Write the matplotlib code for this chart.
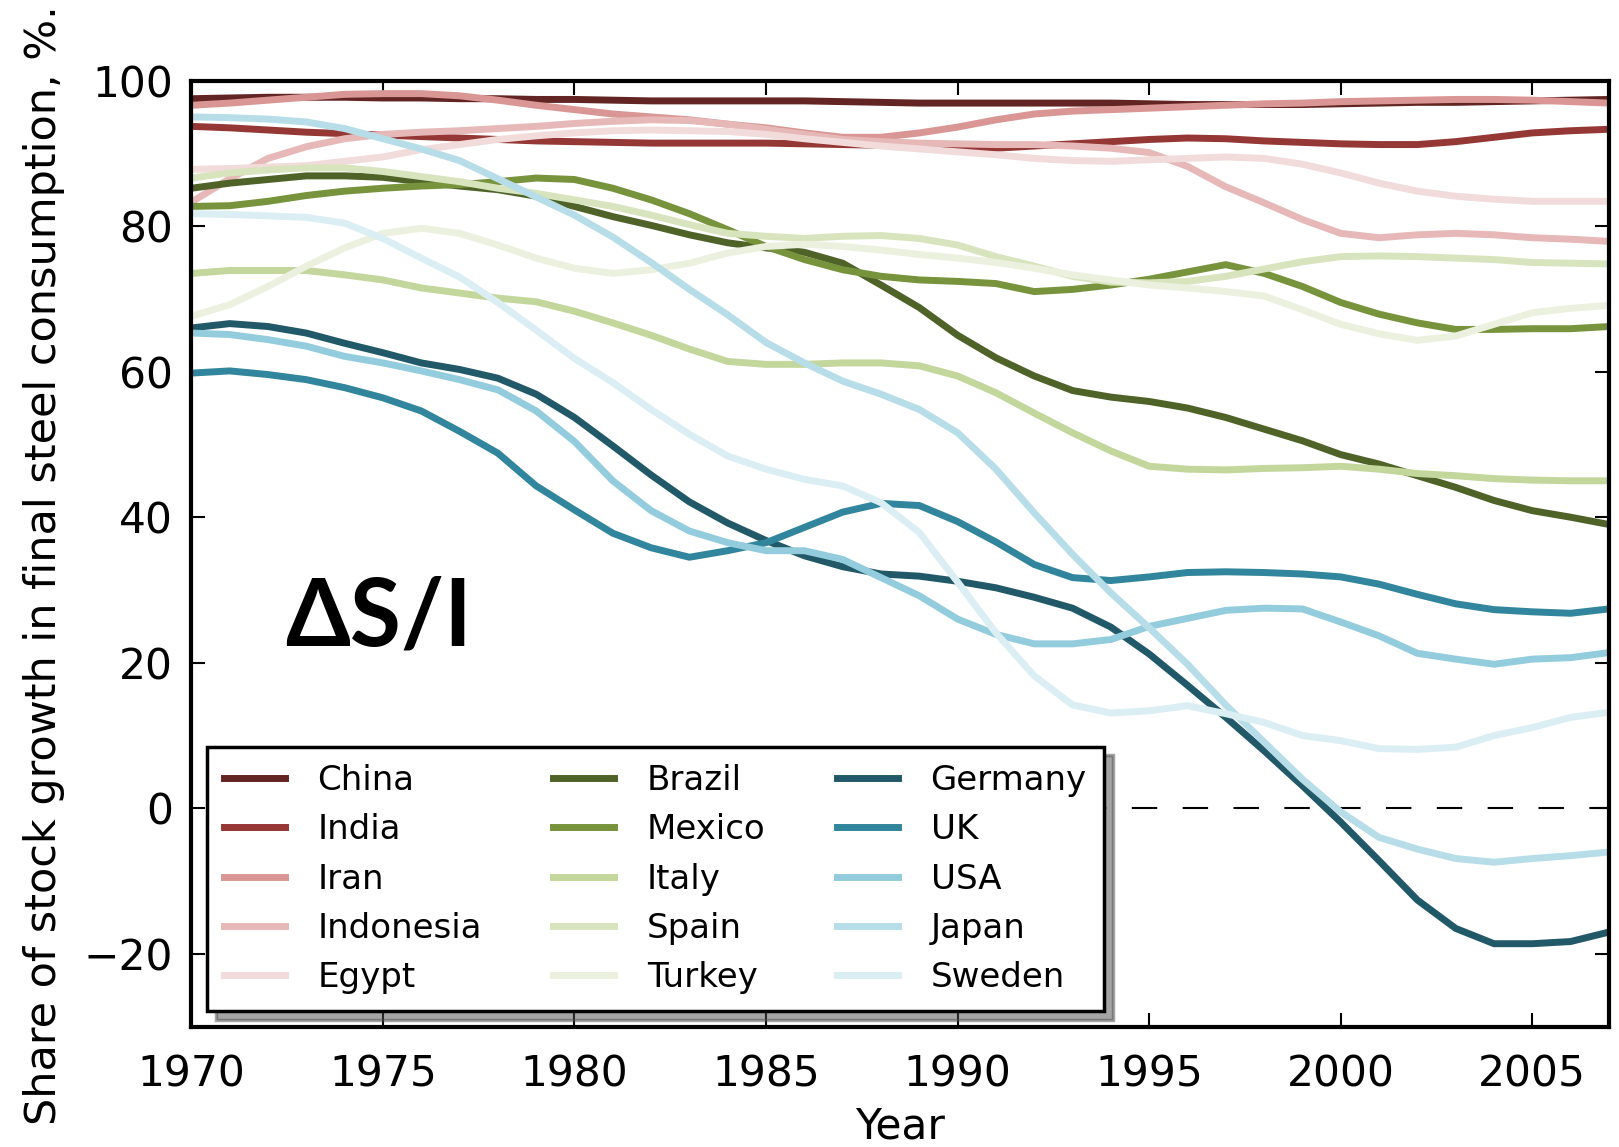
import matplotlib.pyplot as plt

years = list(range(1970, 2008))

# share of stock growth in final steel consumption (%), one value per year 1970-2007
china = [97.5, 97.6, 97.7, 97.7, 97.7, 97.6, 97.6, 97.5, 97.5, 97.4,
         97.4, 97.3, 97.2, 97.2, 97.2, 97.2, 97.2, 97.1, 97.0, 96.9,
         96.9, 96.9, 96.9, 96.9, 96.9, 96.8, 96.7, 96.7, 96.7, 96.7,
         96.8, 96.9, 97.0, 97.0, 97.1, 97.2, 97.3, 97.4]
india = [93.7, 93.5, 93.2, 92.9, 92.7, 92.5, 92.3, 92.1, 91.9, 91.7,
         91.6, 91.5, 91.4, 91.4, 91.4, 91.4, 91.3, 91.2, 91.1, 90.9,
         90.7, 90.7, 91.0, 91.3, 91.6, 91.9, 92.1, 92.0, 91.7, 91.5,
         91.3, 91.2, 91.2, 91.6, 92.2, 92.8, 93.1, 93.3]
iran = [96.6, 96.9, 97.3, 97.7, 98.1, 98.2, 98.2, 97.9, 97.3, 96.6,
        96.0, 95.4, 95.0, 94.6, 94.0, 93.5, 92.8, 92.2, 92.2, 92.8,
        93.6, 94.6, 95.4, 95.8, 96.0, 96.2, 96.4, 96.6, 96.8, 96.9,
        97.1, 97.2, 97.3, 97.4, 97.4, 97.3, 97.1, 96.9]
indonesia = [83.3, 86.5, 89.3, 90.9, 92.0, 92.6, 92.9, 93.1, 93.4, 93.7,
             94.1, 94.4, 94.6, 94.5, 94.0, 93.3, 92.6, 91.9, 91.6, 91.4,
             91.3, 91.2, 91.2, 91.0, 90.7, 90.1, 88.2, 85.4, 83.2, 80.9,
             79.0, 78.4, 78.8, 79.0, 78.8, 78.4, 78.2, 77.9]
egypt = [87.8, 87.9, 88.1, 88.3, 88.9, 89.5, 90.5, 91.2, 91.9, 92.4,
         92.8, 93.1, 93.2, 93.1, 93.0, 92.6, 92.0, 91.5, 91.0, 90.6,
         90.2, 89.8, 89.3, 89.0, 88.9, 89.1, 89.3, 89.5, 89.3, 88.5,
         87.3, 85.9, 84.8, 84.1, 83.7, 83.4, 83.4, 83.4]
brazil = [85.2, 85.9, 86.4, 86.9, 86.9, 86.7, 86.1, 85.5, 85.0, 84.1,
          82.7, 81.3, 80.1, 78.8, 77.7, 77.0, 76.4, 74.9, 71.9, 68.8,
          65.0, 61.9, 59.4, 57.4, 56.5, 55.9, 55.0, 53.7, 52.1, 50.5,
          48.6, 47.3, 45.7, 44.1, 42.3, 40.9, 40.0, 39.0]
mexico = [82.7, 82.8, 83.4, 84.2, 84.8, 85.2, 85.5, 85.7, 86.1, 86.6,
          86.4, 85.2, 83.6, 81.7, 79.5, 77.2, 75.4, 74.0, 73.1, 72.6,
          72.4, 72.1, 71.0, 71.3, 71.9, 72.7, 73.7, 74.7, 73.5, 71.7,
          69.5, 67.9, 66.7, 65.8, 65.8, 65.9, 65.9, 66.2]
italy = [73.5, 73.9, 73.9, 73.9, 73.3, 72.6, 71.5, 70.8, 70.1, 69.6,
         68.3, 66.7, 65.0, 63.1, 61.4, 61.0, 61.0, 61.2, 61.2, 60.8,
         59.4, 57.1, 54.3, 51.6, 49.1, 47.0, 46.6, 46.5, 46.7, 46.8,
         47.0, 46.6, 46.0, 45.7, 45.3, 45.1, 45.0, 45.0]
spain = [86.6, 87.3, 87.7, 88.0, 88.0, 87.5, 86.8, 86.1, 85.2, 84.5,
         83.6, 82.7, 81.5, 80.2, 79.0, 78.6, 78.3, 78.6, 78.7, 78.3,
         77.4, 75.8, 74.5, 73.1, 72.3, 72.2, 72.4, 73.1, 74.1, 75.1,
         75.8, 75.9, 75.8, 75.6, 75.4, 75.0, 74.9, 74.8]
turkey = [67.6, 69.2, 71.7, 74.5, 77.0, 79.0, 79.7, 79.0, 77.4, 75.6,
          74.2, 73.5, 74.0, 74.9, 76.3, 77.2, 77.5, 77.2, 76.7, 76.1,
          75.6, 75.0, 74.2, 73.3, 72.6, 71.9, 71.5, 71.0, 70.4, 68.5,
          66.5, 65.2, 64.3, 64.9, 66.5, 68.1, 68.7, 69.1]
germany = [66.0, 66.6, 66.2, 65.3, 63.9, 62.6, 61.2, 60.3, 59.1, 56.9,
           53.7, 49.8, 45.8, 42.1, 39.2, 36.8, 34.7, 33.2, 32.2, 31.9,
           31.2, 30.3, 29.0, 27.5, 24.9, 21.2, 16.9, 12.5, 7.9, 3.1,
           -1.9, -7.2, -12.6, -16.5, -18.6, -18.6, -18.3, -17.0]
uk = [59.8, 60.1, 59.6, 58.9, 57.8, 56.4, 54.6, 51.8, 48.8, 44.3,
      41.0, 37.8, 35.8, 34.5, 35.4, 36.5, 38.6, 40.7, 41.9, 41.6,
      39.4, 36.6, 33.5, 31.7, 31.3, 31.8, 32.4, 32.5, 32.4, 32.2,
      31.8, 30.8, 29.4, 28.1, 27.3, 27.0, 26.8, 27.4]
usa = [65.3, 65.1, 64.4, 63.5, 62.1, 61.2, 60.1, 58.9, 57.5, 54.6,
       50.4, 45.0, 40.9, 38.1, 36.5, 35.4, 35.4, 34.2, 31.7, 29.2,
       26.0, 23.9, 22.6, 22.6, 23.2, 25.0, 26.1, 27.2, 27.5, 27.4,
       25.6, 23.7, 21.3, 20.5, 19.8, 20.5, 20.7, 21.4]
japan = [95.0, 94.9, 94.7, 94.3, 93.4, 92.0, 90.6, 89.0, 86.5, 84.0,
         81.5, 78.5, 75.0, 71.3, 67.8, 64.0, 61.2, 58.7, 56.9, 54.8,
         51.6, 46.6, 40.6, 34.9, 29.6, 24.8, 19.8, 14.2, 9.1, 4.0,
         -0.5, -4.0, -5.6, -6.9, -7.4, -6.9, -6.5, -6.0]
sweden = [81.7, 81.6, 81.4, 81.2, 80.4, 78.3, 75.6, 73.0, 69.5, 65.7,
          61.8, 58.5, 54.8, 51.4, 48.4, 46.6, 45.2, 44.3, 42.0, 37.9,
          31.1, 24.1, 18.2, 14.2, 13.1, 13.4, 14.1, 13.0, 11.8, 10.0,
          9.3, 8.2, 8.1, 8.4, 10.0, 11.1, 12.5, 13.2]

countries = ["China", "India", "Iran", "Indonesia", "Egypt",
             "Brazil", "Mexico", "Italy", "Spain", "Turkey",
             "Germany", "UK", "USA", "Japan", "Sweden"]
values = [china, india, iran, indonesia, egypt,
          brazil, mexico, italy, spain, turkey,
          germany, uk, usa, japan, sweden]
colors = ["#632523", "#953735", "#d99694", "#e6b9b8", "#f2dcdb",
          "#4f6228", "#77933c", "#c3d69b", "#d7e4bd", "#ebf1de",
          "#215968", "#31859c", "#93cddd", "#b7dee8", "#dbeef4"]

fig = plt.figure(figsize=(16.19, 11.47), dpi=100)
ax = fig.add_axes([0.1182, 0.1049, 0.8756, 0.8249])

for name, vals, col in zip(countries, values, colors):
    ax.plot(years, vals, color=col, lw=5, label=name)

# zero reference line, mostly hidden behind the legend
ax.axhline(0, color="k", lw=1.5, ls=(12, (12.2, 12.2)), zorder=1)

ax.set_xlim(1970, 2007)
ax.set_ylim(-30, 100)
ax.set_xticks(range(1970, 2006, 5))
ax.set_yticks(range(-20, 101, 20))

ax.tick_params(direction="in", top=True, right=True, length=10, width=1.5,
               labelsize=30.5)
ax.tick_params(axis="x", pad=19)
ax.tick_params(axis="y", pad=13)
for sp in ax.spines.values():
    sp.set_linewidth(3)

ax.set_xlabel("Year", fontsize=30.5)
ax.set_ylabel("Share of stock growth in final steel consumption, %.", fontsize=31)
ax.xaxis.set_label_coords(0.5, -0.083)
ax.yaxis.set_label_coords(-0.089, 0.488)

ax.text(0.066, 0.403, "\u0394S/I", transform=ax.transAxes, fontsize=67,
        fontweight="bold", family=["Lato", "DejaVu Sans"],
        ha="left", va="baseline")

leg = ax.legend(loc="lower left", ncol=3, fontsize=24.5, handlelength=1.8,
                handletextpad=0.95, columnspacing=2.1, labelspacing=0.48,
                borderpad=0.5, borderaxespad=0.45, fancybox=False,
                framealpha=1, shadow={"ox": 6.5, "oy": -6})
leg.get_frame().set_edgecolor("k")
leg.get_frame().set_linewidth(2.5)

fig.savefig("out.png", dpi=100)
